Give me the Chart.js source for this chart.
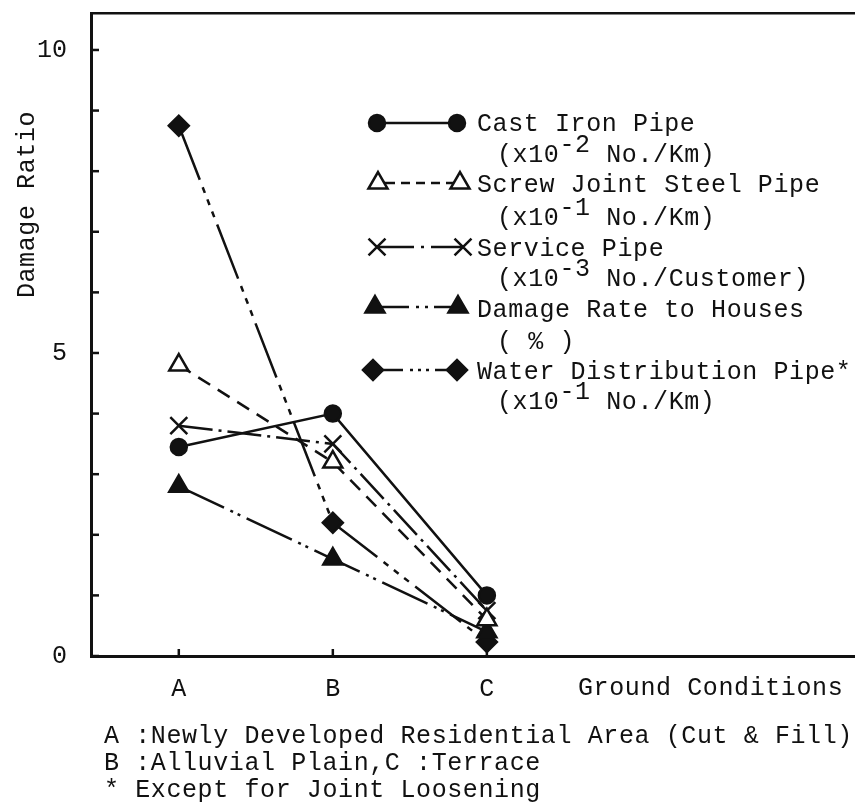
<!DOCTYPE html>
<html>
<head>
<meta charset="utf-8">
<script src="https://cdn.jsdelivr.net/npm/chart.js@4.4.1/dist/chart.umd.min.js"></script>
<style>
html,body{margin:0;padding:0;background:#fff;}
canvas{display:block;}
</style>
</head>
<body>
<canvas id="c" width="855" height="810"></canvas>
<script>
// ---- data ----
const categories = ['A', 'B', 'C'];
const categoryPos = [1, 2, 3];
const castIron = [3.45, 4.0, 1.0];
const screwJoint = [4.8, 3.2, 0.6];
const servicePipe = [3.8, 3.5, 0.75];
const houses = [2.8, 1.6, 0.4];
const waterDist = [8.75, 2.2, 0.23];
const yTickValues = [0, 1, 2, 3, 4, 5, 6, 7, 8, 9, 10];
const yTickLabels = [0, 5, 10];
const yTitle = 'Damage Ratio';
const xTitle = 'Ground Conditions';
const notes = [
  'A :Newly Developed Residential Area (Cut & Fill)',
  'B :Alluvial Plain,C :Terrace',
  '* Except for Joint Loosening'
];
const legendNames = ['Cast Iron Pipe', 'Screw Joint Steel Pipe', 'Service Pipe', 'Damage Rate to Houses', 'Water Distribution Pipe*'];
const legendUnits = [
  ['(x10', '-2', ' No./Km)'],
  ['(x10', '-1', ' No./Km)'],
  ['(x10', '-3', ' No./Customer)'],
  ['( % )', '', ''],
  ['(x10', '-1', ' No./Km)']
];

const FONT = '"Liberation Mono", "DejaVu Sans Mono", monospace';
const INK = '#111';
const SPACING = '0.6px';

const toXY = arr => arr.map((v, i) => ({x: categoryPos[i], y: v}));

const styles = [
  {dash: [], point: 'circle', r: 8, fill: INK},
  {dash: [14, 9], point: 'triangle', r: 11, fill: '#fff'},
  {dash: [34, 6, 3, 6], point: 'crossRot', r: 12, fill: INK},
  {dash: [50, 7, 3, 5, 3, 7], point: 'triangle', r: 11, fill: INK},
  {dash: [58, 8, 6, 7, 6, 7, 6, 8], point: 'rectRot', r: 10, fill: INK}
];
const seriesData = [castIron, screwJoint, servicePipe, houses, waterDist];

const datasets = seriesData.map((d, i) => ({
  label: legendNames[i],
  data: toXY(d),
  borderColor: INK,
  borderWidth: 2.5,
  borderDash: styles[i].dash,
  pointStyle: styles[i].point,
  pointRadius: styles[i].r,
  pointBackgroundColor: styles[i].fill,
  pointBorderColor: INK,
  pointBorderWidth: 2.5,
  tension: 0,
  fill: false,
  clip: false
}));

function drawMarker(ctx, style, x, y) {
  ctx.save();
  ctx.setLineDash([]);
  ctx.lineWidth = 2.5;
  ctx.strokeStyle = INK;
  ctx.fillStyle = style.fill;
  const r = style.r;
  ctx.beginPath();
  if (style.point === 'circle') {
    ctx.arc(x, y, r, 0, Math.PI * 2);
    ctx.fill(); ctx.stroke();
  } else if (style.point === 'triangle') {
    ctx.moveTo(x, y - r);
    ctx.lineTo(x + r * Math.sin(2 * Math.PI / 3), y + r * 0.5);
    ctx.lineTo(x - r * Math.sin(2 * Math.PI / 3), y + r * 0.5);
    ctx.closePath();
    ctx.fill(); ctx.stroke();
  } else if (style.point === 'crossRot') {
    const o = r * Math.SQRT1_2;
    ctx.moveTo(x - o, y - o); ctx.lineTo(x + o, y + o);
    ctx.moveTo(x - o, y + o); ctx.lineTo(x + o, y - o);
    ctx.stroke();
  } else if (style.point === 'rectRot') {
    ctx.moveTo(x - r, y); ctx.lineTo(x, y - r); ctx.lineTo(x + r, y); ctx.lineTo(x, y + r);
    ctx.closePath();
    ctx.fill(); ctx.stroke();
  }
  ctx.restore();
}

const legendRows = [
  {my: 123, x1: 377, x2: 457, ty: 131, uy: 162, segs: [[377, 457]]},
  {my: 183, x1: 378, x2: 460, ty: 192, uy: 225, segs: [[378, 395], [401, 410], [416, 425], [431, 440], [446, 460]]},
  {my: 247, x1: 377, x2: 463, ty: 256, uy: 286, segs: [[377, 414], [421, 424], [431, 463]]},
  {my: 307, x1: 375, x2: 458, ty: 317, uy: 349, segs: [[375, 409], [416, 419], [425, 428], [434, 458]]},
  {my: 370, x1: 373, x2: 457, ty: 379, uy: 409, segs: [[373, 403], [410, 413], [418, 421], [426, 429], [435, 457]]}
];

const decor = {
  id: 'decor',
  afterDraw(chart) {
    const ctx = chart.ctx;
    const xs = chart.scales.x, ys = chart.scales.y;
    const left = chart.chartArea.left, bottom = chart.chartArea.bottom;
    ctx.save();
    ctx.strokeStyle = INK;
    ctx.lineWidth = 2.5;
    ctx.setLineDash([]);
    // inward tick marks
    yTickValues.forEach(v => {
      const py = ys.getPixelForValue(v);
      ctx.beginPath(); ctx.moveTo(left, py); ctx.lineTo(left + 8, py); ctx.stroke();
    });
    categoryPos.forEach(v => {
      const px = xs.getPixelForValue(v);
      ctx.beginPath(); ctx.moveTo(px, bottom); ctx.lineTo(px, bottom - 7); ctx.stroke();
    });
    // texts
    ctx.fillStyle = INK;
    ctx.font = '25px ' + FONT;
    if ('letterSpacing' in ctx) ctx.letterSpacing = SPACING;
    ctx.textBaseline = 'alphabetic';
    ctx.textAlign = 'left';
    ctx.fillText(xTitle, 578, 695);
    notes.forEach((t, i) => ctx.fillText(t, 104, 743 + i * 27));
    // y title rotated
    ctx.save();
    ctx.translate(27, ys.getPixelForValue(7.45));
    ctx.rotate(-Math.PI / 2);
    ctx.textAlign = 'center';
    ctx.textBaseline = 'middle';
    ctx.fillText(yTitle, 0, 0);
    ctx.restore();
    // legend
    legendRows.forEach((row, i) => {
      ctx.save();
      ctx.lineWidth = 2.5;
      ctx.strokeStyle = INK;
      row.segs.forEach(s => {
        ctx.beginPath(); ctx.moveTo(s[0], row.my); ctx.lineTo(s[1], row.my); ctx.stroke();
      });
      ctx.restore();
      drawMarker(ctx, styles[i], row.x1, row.my);
      drawMarker(ctx, styles[i], row.x2, row.my);
      ctx.font = '25px ' + FONT;
      ctx.textAlign = 'left';
      ctx.textBaseline = 'alphabetic';
      ctx.fillText(legendNames[i], 477, row.ty);
      const u = legendUnits[i];
      let ux = 497;
      ctx.fillText(u[0], ux, row.uy);
      ux += ctx.measureText(u[0]).width;
      if (u[1]) {
        ctx.fillText(u[1], ux, row.uy - 10);
        ux += ctx.measureText(u[1]).width;
      }
      if (u[2]) ctx.fillText(u[2], ux, row.uy);
    });
    ctx.restore();
  }
};

function zeroPad(s) {
  s.paddingTop = 0; s.paddingBottom = 0; s.paddingLeft = 0; s.paddingRight = 0;
}

new Chart(document.getElementById('c'), {
  type: 'line',
  data: {datasets},
  options: {
    responsive: false,
    animation: false,
    layout: {autoPadding: false, padding: {top: 13, right: 0, bottom: 0, left: 0}},
    plugins: {legend: {display: false}, tooltip: {enabled: false}},
    scales: {
      x: {
        type: 'linear', position: 'bottom', min: 0.43, max: 5.39,
        afterBuildTicks: s => { s.ticks = categoryPos.map(v => ({value: v})); },
        afterFit: s => { s.height = 154; zeroPad(s); },
        grid: {display: false, drawTicks: false},
        border: {display: true, color: INK, width: 3},
        ticks: {
          callback: v => { const k = categoryPos.indexOf(v); return k >= 0 ? categories[k] : ''; },
          font: {family: FONT, size: 25}, color: INK, padding: 18,
          maxRotation: 0, autoSkip: false
        }
      },
      xTop: {
        type: 'linear', position: 'top', min: 0.43, max: 5.39,
        afterFit: s => { s.height = 0; zeroPad(s); },
        grid: {display: false, drawTicks: false},
        border: {display: true, color: INK, width: 2.5},
        ticks: {display: false}
      },
      y: {
        type: 'linear', min: 0, max: 10.61,
        afterBuildTicks: s => { s.ticks = yTickValues.map(v => ({value: v})); },
        afterFit: s => { s.width = 91; zeroPad(s); },
        grid: {display: false, drawTicks: false},
        border: {display: true, color: INK, width: 3},
        ticks: {
          callback: v => yTickLabels.includes(v) ? String(v) : '',
          font: {family: FONT, size: 25}, color: INK, padding: 24, autoSkip: false
        }
      }
    }
  },
  plugins: [decor]
});
</script>
</body>
</html>
